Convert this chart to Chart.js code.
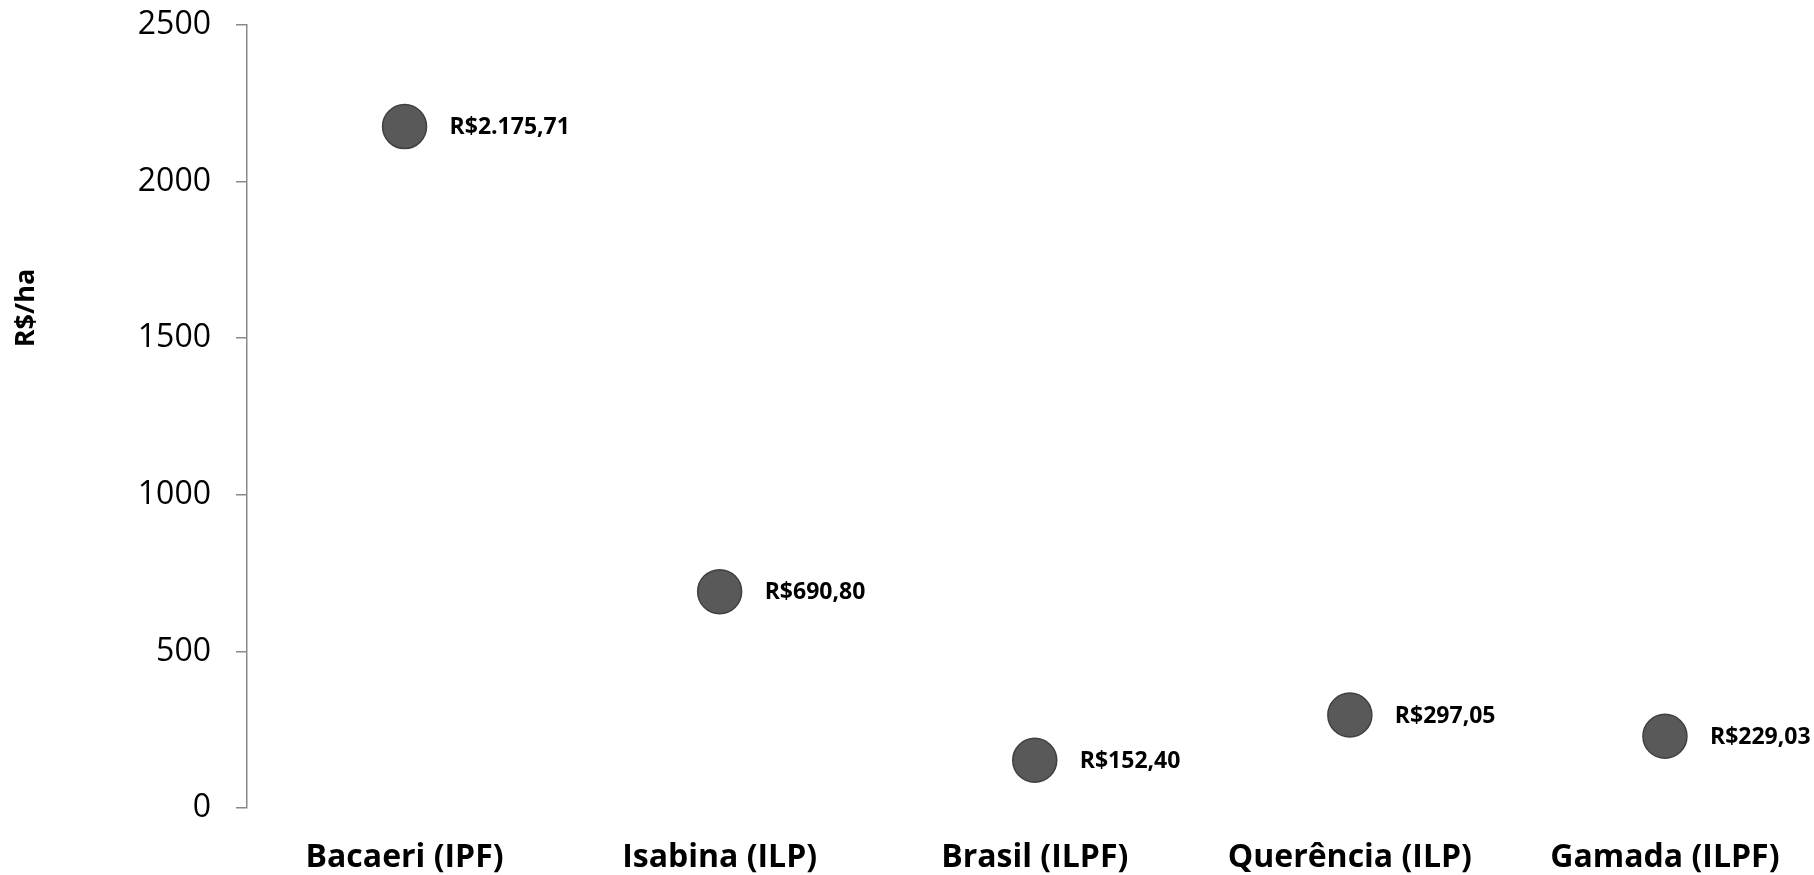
<!DOCTYPE html>
<html>
<head>
<meta charset="utf-8">
<script src="https://cdn.jsdelivr.net/npm/chart.js@4"></script>
<style>
html,body{margin:0;padding:0;background:#fff;overflow:hidden;}
#wrap{width:1846px;height:875px;position:relative;}
</style>
</head>
<body>
<div id="wrap"><canvas id="c"></canvas></div>
<script>
const categories = ['Bacaeri (IPF)', 'Isabina (ILP)', 'Brasil (ILPF)', 'Querência (ILP)', 'Gamada (ILPF)'];
const values = [2175.71, 690.80, 152.40, 297.05, 229.03];
const yTicks = [0, 500, 1000, 1500, 2000, 2500];
const yTitle = 'R$/ha';

function fmt(v) {
  const parts = v.toFixed(2).split('.');
  const intPart = parts[0].replace(/\B(?=(\d{3})+(?!\d))/g, '.');
  return 'R$' + intPart + ',' + parts[1];
}

const valueLabels = {
  id: 'valueLabels',
  afterDatasetsDraw(chart) {
    const ctx = chart.ctx;
    const meta = chart.getDatasetMeta(0);
    ctx.save();
    ctx.font = 'bold 23px "Open Sans"';
    ctx.fillStyle = '#000';
    ctx.textAlign = 'left';
    ctx.textBaseline = 'middle';
    meta.data.forEach((p, i) => {
      ctx.fillText(fmt(values[i]), p.x + 45, p.y + 1);
    });
    ctx.restore();
  }
};

const yTitlePlugin = {
  id: 'yTitlePlugin',
  afterDraw(chart) {
    const ctx = chart.ctx;
    ctx.save();
    ctx.translate(26, 308);
    ctx.rotate(-Math.PI / 2);
    ctx.font = 'bold 27px "Open Sans"';
    ctx.fillStyle = '#000';
    ctx.textAlign = 'center';
    ctx.textBaseline = 'middle';
    ctx.fillText(yTitle, 0, 0);
    ctx.restore();
  }
};

new Chart(document.getElementById('c'), {
  type: 'line',
  data: {
    labels: categories,
    datasets: [{
      data: values,
      showLine: false,
      pointRadius: 22,
      pointHoverRadius: 22,
      backgroundColor: '#595959',
      borderColor: '#404040',
      borderWidth: 1.5,
      pointBorderWidth: 1.5
    }]
  },
  options: {
    responsive: true,
    maintainAspectRatio: false,
    animation: false,
    events: [],
    layout: { padding: { top: 25, right: 0, bottom: 0, left: 0 } },
    plugins: { legend: { display: false }, tooltip: { enabled: false } },
    scales: {
      x: {
        type: 'category',
        offset: true,
        grid: { display: false, drawTicks: false },
        border: { display: false },
        ticks: {
          color: '#000',
          font: { family: 'Open Sans', size: 32, weight: 'bold' },
          padding: 31,
          maxRotation: 0,
          autoSkip: false
        },
        afterFit(s) { s.height = 67; }
      },
      y: {
        min: 0,
        max: 2500,
        afterBuildTicks(s) { s.ticks = yTicks.map(v => ({ value: v })); },
        grid: { drawOnChartArea: false, drawTicks: true, tickLength: 11, color: '#898989', lineWidth: 1.5 },
        border: { display: true, color: '#898989', width: 1.5 },
        ticks: {
          color: '#000',
          font: { family: 'Open Sans', size: 32 },
          padding: 25,
          callback: (v) => String(v)
        },
        afterFit(s) { s.width = 247; s.paddingTop = 0; s.paddingBottom = 0; }
      }
    }
  },
  plugins: [valueLabels, yTitlePlugin]
});
</script>
</body>
</html>
